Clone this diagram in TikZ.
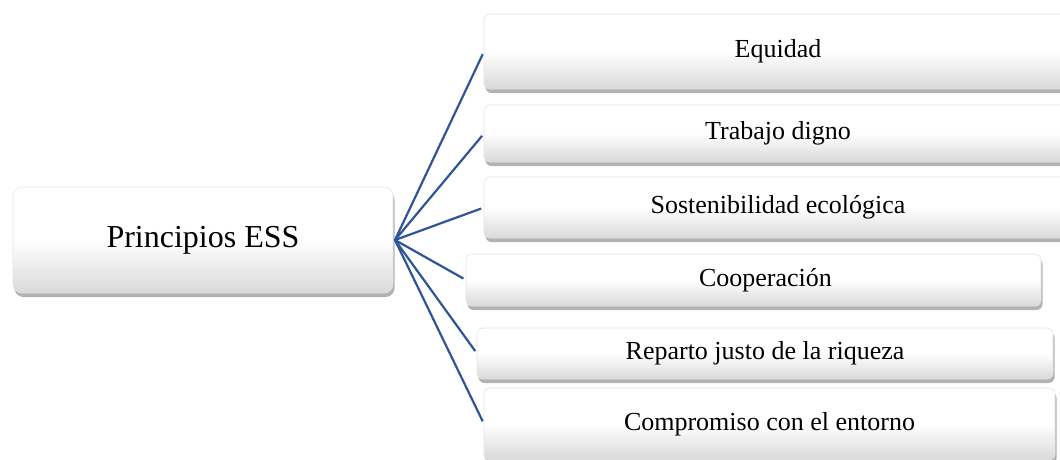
\documentclass[tikz,border=0pt]{standalone}
\usepackage{fontspec}
\setmainfont{Liberation Serif}
\usetikzlibrary{shadows}
\definecolor{linkblue}{RGB}{47,85,151}
\tikzset{
  boxbase/.style={rectangle, inner sep=0pt, outer sep=0pt,
    draw=black!10, line width=0.6pt,
    top color=white, bottom color=black!15, middle color=white,
    drop shadow={shadow xshift=1.5pt, shadow yshift=-4pt, opacity=0.55, fill=black!55}},
  bigbox/.style={boxbase, rounded corners=9pt, font=\fontsize{32}{38}\selectfont},
  smallbox/.style={boxbase, rounded corners=6pt, font=\fontsize{26}{31}\selectfont},
  link/.style={draw=linkblue, line width=2.2pt, shorten >=3pt}
}
\begin{document}
\begin{tikzpicture}[x=1pt, y=-1pt]
\useasboundingbox (0,0) rectangle (1060,459);
\clip (0,0) rectangle (1060,459);
\fill[white] (0,0) rectangle (1060,459);

\node[bigbox, minimum width=380pt, minimum height=106pt] (ess) at (203,240) {Principios ESS};

\node[smallbox, minimum width=588pt, minimum height=75pt] (eq) at (778,51.5) {Equidad};
\node[smallbox, minimum width=588pt, minimum height=57pt] (tr) at (778,133.5) {Trabajo digno};
\node[smallbox, minimum width=588pt, minimum height=61pt] (so) at (778,207.5) {Sostenibilidad ecológica};
\node[smallbox, minimum width=575pt, minimum height=52pt] (co) at (753.5,280) {\hspace*{24pt}Cooperación};
\node[smallbox, minimum width=576pt, minimum height=51pt] (re) at (765,353.5) {Reparto justo de la riqueza};
\node[smallbox, minimum width=571pt, minimum height=72pt] (cm) at (769.5,424) {Compromiso con el entorno};

\coordinate (hub) at ([xshift=2pt]ess.east);
\foreach \t in {eq,tr,so,co,re,cm}
  \draw[link] (hub) -- (\t.west);
\end{tikzpicture}
\end{document}
